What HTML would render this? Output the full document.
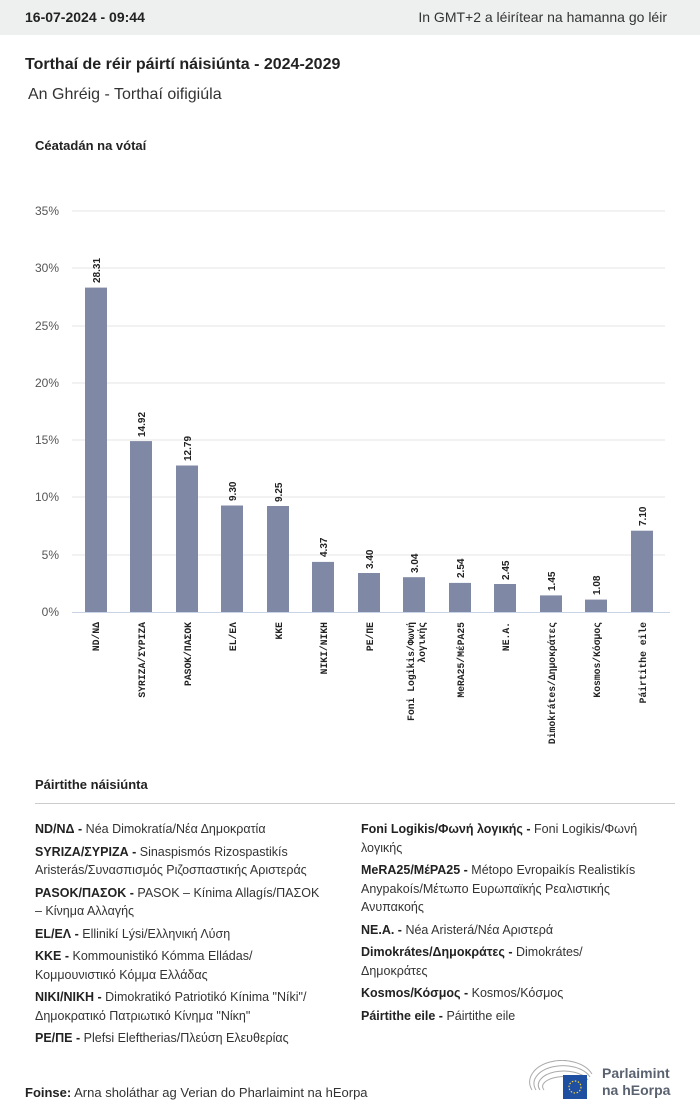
<!DOCTYPE html>
<html><head><meta charset="utf-8"><style>
body{margin:0;width:700px;height:1118px;background:#fff;font-family:"Liberation Sans",sans-serif;color:#222;position:relative;overflow:hidden}
.hdr{position:absolute;left:0;top:0;width:700px;height:35px;background:#eef0ef;font-size:14px}
.abs{position:absolute}
.leg{position:absolute;font-size:12.5px;line-height:18.5px;color:#333;white-space:nowrap}
.leg b{color:#222}
.leg div{margin-bottom:4px}
</style></head><body>
<div class="hdr"><span class="abs" style="left:25px;top:9px;font-weight:bold">16-07-2024 - 09:44</span><span class="abs" style="right:33px;top:9px;color:#333">In GMT+2 a léirítear na hamanna go léir</span></div>
<div class="abs" style="left:25px;top:56px;font-size:16px;font-weight:bold">Torthaí de réir páirtí náisiúnta - 2024-2029</div>
<div class="abs" style="left:28px;top:86px;font-size:16px;color:#333">An Ghréig - Torthaí oifigiúla</div>
<div class="abs" style="left:35px;top:138px;font-size:13px;font-weight:bold">Céatadán na vótaí</div>
<svg class="abs" style="left:0;top:0" width="700" height="780">
<g font-family="Liberation Sans" font-size="12" fill="#555" text-anchor="end">
<g stroke="#e4e4e4"><line x1="72" x2="665" y1="211" y2="211"/><line x1="72" x2="665" y1="268" y2="268"/><line x1="72" x2="665" y1="326" y2="326"/><line x1="72" x2="665" y1="383" y2="383"/><line x1="72" x2="665" y1="440" y2="440"/><line x1="72" x2="665" y1="497" y2="497"/><line x1="72" x2="665" y1="555" y2="555"/></g>
<text x="59" y="215">35%</text><text x="59" y="272">30%</text><text x="59" y="330">25%</text><text x="59" y="387">20%</text><text x="59" y="444">15%</text><text x="59" y="501">10%</text><text x="59" y="559">5%</text><text x="59" y="616">0%</text>
</g>
<g fill="#7f88a5">
<rect x="85" y="287.6" width="22" height="324.4"/>
<rect x="130" y="441.1" width="22" height="170.9"/>
<rect x="176" y="465.5" width="22" height="146.5"/>
<rect x="221" y="505.5" width="22" height="106.5"/>
<rect x="267" y="506" width="22" height="106"/>
<rect x="312" y="561.9" width="22" height="50.1"/>
<rect x="358" y="573" width="22" height="39"/>
<rect x="403" y="577.2" width="22" height="34.8"/>
<rect x="449" y="582.9" width="22" height="29.1"/>
<rect x="494" y="584" width="22" height="28"/>
<rect x="540" y="595.4" width="22" height="16.6"/>
<rect x="585" y="599.6" width="22" height="12.4"/>
<rect x="631" y="530.7" width="22" height="81.3"/>
</g>
<line x1="72" x2="670" y1="612.5" y2="612.5" stroke="#c8d4e6" stroke-width="1"/>
<g font-family="Liberation Sans" font-size="10" font-weight="bold" fill="#222">
<text transform="translate(100,283) rotate(-90)">28.31</text>
<text transform="translate(145,437) rotate(-90)">14.92</text>
<text transform="translate(191,461) rotate(-90)">12.79</text>
<text transform="translate(236,501) rotate(-90)">9.30</text>
<text transform="translate(282,502) rotate(-90)">9.25</text>
<text transform="translate(327,557) rotate(-90)">4.37</text>
<text transform="translate(373,569) rotate(-90)">3.40</text>
<text transform="translate(418,573) rotate(-90)">3.04</text>
<text transform="translate(464,578) rotate(-90)">2.54</text>
<text transform="translate(509,580) rotate(-90)">2.45</text>
<text transform="translate(555,591) rotate(-90)">1.45</text>
<text transform="translate(600,595) rotate(-90)">1.08</text>
<text transform="translate(646,526) rotate(-90)">7.10</text>
</g>
<g font-family="Liberation Mono" font-size="9.7" font-weight="bold" fill="#222" text-anchor="end">
<text transform="translate(99,622) rotate(-90)">ND/ΝΔ</text>
<text transform="translate(145,622) rotate(-90)">SYRIZA/ΣΥΡΙΖΑ</text>
<text transform="translate(191,622) rotate(-90)">PASOK/ΠΑΣΟΚ</text>
<text transform="translate(236,622) rotate(-90)">EL/ΕΛ</text>
<text transform="translate(282,622) rotate(-90)">KKE</text>
<text transform="translate(327,622) rotate(-90)">NIKI/ΝΙΚΗ</text>
<text transform="translate(373,622) rotate(-90)">PE/ΠΕ</text>
<text transform="translate(414,622) rotate(-90)">Foni Logikis/Φωνή</text>
<text transform="translate(425,622) rotate(-90)">λογικής</text>
<text transform="translate(464,622) rotate(-90)">MeRA25/ΜέΡΑ25</text>
<text transform="translate(509,622) rotate(-90)">NE.A.</text>
<text transform="translate(555,622) rotate(-90)">Dimokrátes/Δημοκράτες</text>
<text transform="translate(600,622) rotate(-90)">Kosmos/Κόσμος</text>
<text transform="translate(646,622) rotate(-90)">Páirtithe eile</text>
</g>
</svg>
<div class="abs" style="left:35px;top:777px;font-size:13px;font-weight:bold">Páirtithe náisiúnta</div>
<div class="abs" style="left:35px;top:803px;width:640px;height:1px;background:#ccc"></div>
<div class="leg" style="left:35px;top:820px;width:315px">
<div><b>ND/ΝΔ -</b> Néa Dimokratía/Νέα Δημοκρατία</div>
<div><b>SYRIZA/ΣΥΡΙΖΑ -</b> Sinaspismós Rizospastikís<br>Aristerás/Συνασπισμός Ριζοσπαστικής Αριστεράς</div>
<div><b>PASOK/ΠΑΣΟΚ -</b> PASOK – Kínima Allagís/ΠΑΣΟΚ<br>– Κίνημα Αλλαγής</div>
<div><b>EL/ΕΛ -</b> Ellinikí Lýsi/Ελληνική Λύση</div>
<div><b>KKE -</b> Kommounistikó Kómma Elládas/<br>Κομμουνιστικό Κόμμα Ελλάδας</div>
<div><b>NIKI/ΝΙΚΗ -</b> Dimokratikó Patriotikó Kínima "Níki"/<br>Δημοκρατικό Πατριωτικό Κίνημα "Νίκη"</div>
<div><b>PE/ΠΕ -</b> Plefsi Eleftherias/Πλεύση Ελευθερίας</div>
</div>
<div class="leg" style="left:361px;top:820px;width:315px">
<div><b>Foni Logikis/Φωνή λογικής -</b> Foni Logikis/Φωνή<br>λογικής</div>
<div><b>MeRA25/ΜέΡΑ25 -</b> Métopo Evropaikís Realistikís<br>Anypakoís/Μέτωπο Ευρωπαϊκής Ρεαλιστικής<br>Ανυπακοής</div>
<div><b>NE.A. -</b> Néa Aristerá/Νέα Αριστερά</div>
<div><b>Dimokrátes/Δημοκράτες -</b> Dimokrátes/<br>Δημοκράτες</div>
<div><b>Kosmos/Κόσμος -</b> Kosmos/Κόσμος</div>
<div><b>Páirtithe eile -</b> Páirtithe eile</div>
</div>
<div class="abs" style="left:25px;top:1085px;font-size:13px;color:#333"><b style="color:#222">Foinse:</b> Arna sholáthar ag Verian do Pharlaimint na hEorpa</div>
<svg class="abs" style="left:528px;top:1060px" width="70" height="40">
<g fill="none" stroke="#aaa" stroke-width="1"><path d="M4 30 A30 20 0 0 1 64 14"/><path d="M8 30 A26 16 0 0 1 62 17"/><path d="M12 30 A22 12 0 0 1 60 20"/><path d="M16 30 A18 8 0 0 1 58 23"/></g>
<rect x="35" y="15" width="24" height="24" fill="#1f4fa0"/>
<circle cx="47" cy="27" r="6" fill="none" stroke="#f6d43a" stroke-width="1.2" stroke-dasharray="1.5 1.6"/>
</svg>
<div class="abs" style="left:602px;top:1065px;font-size:14px;font-weight:bold;color:#5a6270;line-height:17px">Parlaimint<br>na hEorpa</div>
</body></html>
